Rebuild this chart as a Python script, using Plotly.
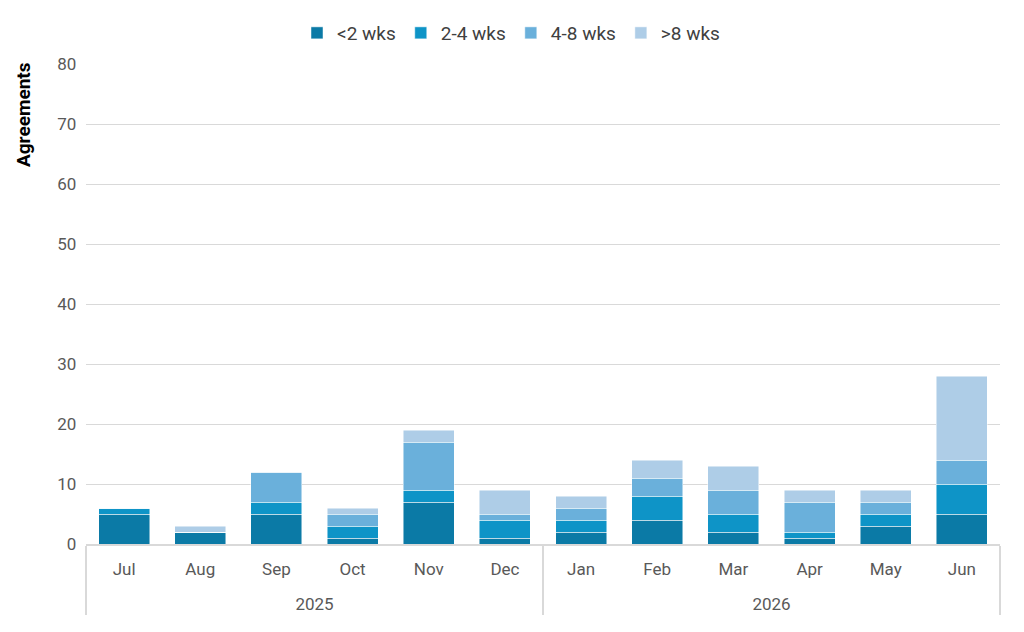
import plotly.graph_objects as go

years = ["2025"] * 6 + ["2026"] * 6
months = ["Jul", "Aug", "Sep", "Oct", "Nov", "Dec", "Jan", "Feb", "Mar", "Apr", "May", "Jun"]
lt2 = [5, 2, 5, 1, 7, 1, 2, 4, 2, 1, 3, 5]
w2_4 = [1, 0, 2, 2, 2, 3, 2, 4, 3, 1, 2, 5]
w4_8 = [0, 0, 5, 2, 8, 1, 2, 3, 4, 5, 2, 4]
gt8 = [0, 1, 0, 1, 2, 4, 2, 3, 4, 2, 2, 14]

series = [
    ("<2 wks", lt2, "#0B7AA6"),
    ("2-4 wks", w2_4, "#0E94C7"),
    ("4-8 wks", w4_8, "#6AB0DB"),
    (">8 wks", gt8, "#AECDE7"),
]

FONT = "Roboto, sans-serif"
year_labels = ["<br>" + y for y in years]

# page is rendered with an 8px body offset
L, T, R, B = 78, 56, 32, 96
PH = 632 - T - B
PW = 1024 - L - R

fig = go.Figure()
for name, vals, col in series:
    fig.add_trace(go.Bar(
        x=[year_labels, months], y=vals, name=name,
        marker=dict(color=col, line=dict(color="rgba(255,255,255,0.6)", width=0.8)),
    ))

fig.update_layout(
    barmode="stack",
    bargap=0.33,
    width=1024, height=632,
    margin=dict(l=L, r=R, t=T, b=B, autoexpand=False),
    paper_bgcolor="white", plot_bgcolor="white",
    font=dict(family=FONT, size=17, color="#595959"),
    legend=dict(orientation="h", x=503 / 1024, xanchor="center", xref="container",
                y=(632 - 25) / 632, yanchor="middle", yref="container",
                font=dict(size=19, color="#404040"),
                traceorder="normal", itemwidth=30),
    xaxis=dict(
        type="multicategory", showline=True, linecolor="#D9D9D9", linewidth=1.5,
        dividercolor="#D9D9D9", dividerwidth=1.5, showdividers=True,
        tickfont=dict(size=17, color="#595959"),
        ticks="", ticklabelstandoff=9,
    ),
    yaxis=dict(
        range=[0, 80], dtick=10, showgrid=True, gridcolor="#D9D9D9", gridwidth=1.3,
        zeroline=False, tickfont=dict(size=17, color="#595959"),
        ticksuffix="\u2002",
    ),
    annotations=[dict(
        text="<b>Agreements</b>", textangle=-90, showarrow=False,
        xref="paper", x=-(L - 16) / PW, xanchor="center",
        yref="paper", y=(PH - (115 - 8 - T)) / PH, yanchor="middle",
        font=dict(size=19, color="#000000", family=FONT),
    )],
)

fig.write_html("out.html")
